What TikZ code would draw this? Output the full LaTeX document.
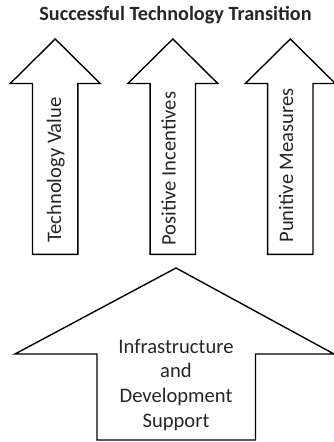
\documentclass[tikz,border=0pt]{standalone}
\usepackage{fontspec}
\setmainfont{Carlito}
\begin{document}
\begin{tikzpicture}[x=1pt,y=-1pt,
  arrowshape/.style={draw=black,line width=1.4pt,fill=white,line join=miter},
  label/.style={inner sep=0pt,font=\fontsize{20.6}{24.7}\selectfont,text=black!85}]
\useasboundingbox (0,0) rectangle (334,442);
% title
\node[inner sep=0pt,anchor=base,font=\fontsize{20.2}{24}\selectfont\bfseries,text=black!85] (title) at (175.5,20.8) {Successful Technology Transition};
% top arrows
\foreach \cx/\nm in {55.2/a, 172.8/b, 290.3/c}{
  \draw[arrowshape] (\cx,39) coordinate (\nm tip) -- (\cx+45,83.5) -- (\cx+22.7,83.5) -- (\cx+22.7,254.3)
    -- (\cx-22.7,254.3) -- (\cx-22.7,83.5) -- (\cx-45,83.5) -- cycle;
}
\node[label,rotate=90,anchor=base west] (tv) at (61,243) {Technology Value};
\node[label,rotate=90,anchor=base west] (pi) at (175.7,246) {Positive Incentives};
\node[label,rotate=90,anchor=base west] (pm) at (293,242.7) {Punitive Measures};
% bottom arrow
\draw[arrowshape] (176,268) coordinate (dtip) -- (334,354) -- (255.5,354) -- (255.5,440)
  -- (97,440) -- (97,354) -- (15,354) -- cycle;
\node[label,align=center,anchor=base] (infra) at (176,427.3) {Infrastructure\\and\\Development\\Support};
\end{tikzpicture}
\end{document}
